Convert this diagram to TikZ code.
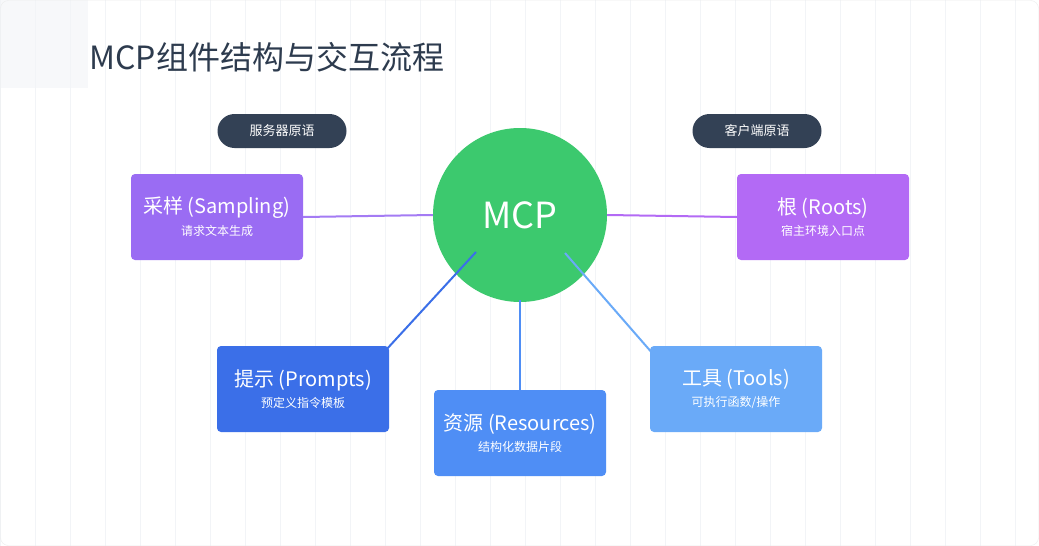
\documentclass[tikz,border=0pt]{standalone}
\usepackage{fontspec}
\setmainfont{Noto Sans CJK SC}
\begin{document}
\begin{tikzpicture}[x=1pt,y=-1pt,
 box/.style={rounded corners=4pt,minimum width=172pt,minimum height=86pt,align=center,text=white,inner sep=0pt},
 pill/.style={rounded corners=17pt,minimum width=129pt,minimum height=34pt,fill=pillc,text=white,font=\fontsize{13}{15}\selectfont,inner sep=0pt},
 ln/.style={line width=2pt}]
\definecolor{pillc}{HTML}{334155}
\definecolor{samp}{HTML}{9A6CF3}
\definecolor{root}{HTML}{B36AF5}
\definecolor{prom}{HTML}{3B6FE8}
\definecolor{reso}{HTML}{4F8EF5}
\definecolor{tool}{HTML}{6AAAF8}
\definecolor{mcpg}{HTML}{3CC96E}
\definecolor{gridc}{HTML}{F2F4F7}
\definecolor{titlec}{HTML}{2D3B4E}
\useasboundingbox (0,0) rectangle (1039,546);
\fill[white] (0,0) rectangle (1039,546);
\fill[gridc!60] (0,0) rectangle (88,88);
\draw[gridc,line width=0.8pt] (0,0) grid[step=35] (1039,546);
\draw[gridc!70!gray!40,rounded corners=8pt] (0.5,0.5) rectangle (1038.5,545.5);
\node[anchor=west,text=titlec,font=\fontsize{32}{36}\selectfont] (title) at (86,57) {MCP组件结构与交互流程};
\node[pill] (sp) at (282,131) {服务器原语};
\node[pill] (cp) at (757,131) {客户端原语};
\coordinate (c1) at (476,252);
\coordinate (c2) at (520,300);
\coordinate (c3) at (565,253);
\coordinate (e1) at (386,350);
\coordinate (e3) at (660,362);
\node[box,fill=samp] (samp) at (217,217) {{\fontsize{20}{24}\selectfont 采样 (Sampling)}\\[6pt]{\fontsize{12}{14}\selectfont 请求文本生成}};
\node[box,fill=root] (root) at (823,217) {{\fontsize{20}{24}\selectfont 根 (Roots)}\\[6pt]{\fontsize{12}{14}\selectfont 宿主环境入口点}};
\node[circle,fill=mcpg,minimum size=174pt,text=white,font=\fontsize{36}{40}\selectfont] (mcp) at (520,215) {MCP};
\draw[ln,samp!90!white] (samp.east) -- (mcp.west);
\draw[ln,root] (mcp.east) -- (root.west);
\draw[ln,prom] (c1) -- (e1);
\draw[ln,reso] (c2) -- (520,390);
\draw[ln,tool] (c3) -- (e3);
\node[box,fill=prom] (prom) at (303,389) {{\fontsize{20}{24}\selectfont 提示 (Prompts)}\\[6pt]{\fontsize{12}{14}\selectfont 预定义指令模板}};
\node[box,fill=reso] (reso) at (520,433) {{\fontsize{20}{24}\selectfont 资源 (Resources)}\\[6pt]{\fontsize{12}{14}\selectfont 结构化数据片段}};
\node[box,fill=tool] (tool) at (736,389) {{\fontsize{20}{24}\selectfont 工具 (Tools)}\\[6pt]{\fontsize{12}{14}\selectfont 可执行函数/操作}};
\end{tikzpicture}
\end{document}
